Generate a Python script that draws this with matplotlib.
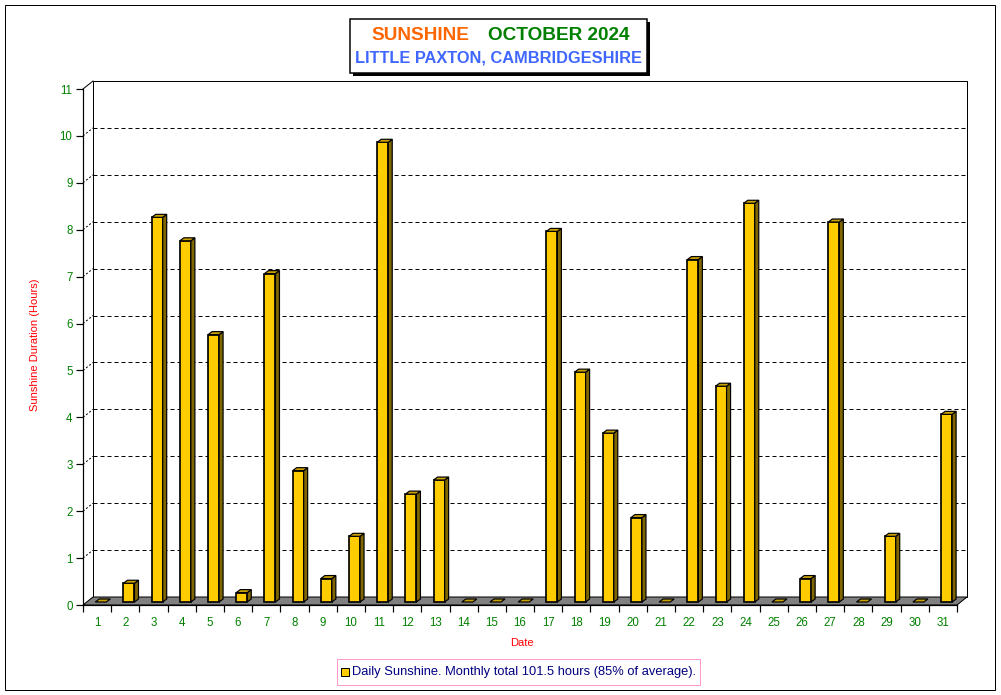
import matplotlib
matplotlib.use('Agg')
import matplotlib.pyplot as plt
from matplotlib.patches import Rectangle, Polygon

# daily sunshine, October 2024 (hours)
days = list(range(1, 32))
sunshine = [0.0, 0.4, 8.2, 7.7, 5.7, 0.2, 7.0, 2.8, 0.5, 1.4, 9.8, 2.3, 2.6, 0.0, 0.0, 0.0,
            7.9, 4.9, 3.6, 1.8, 0.0, 7.3, 4.6, 8.5, 0.0, 0.5, 8.1, 0.0, 1.4, 0.0, 4.0]
y_ticks = list(range(0, 12))
title_left = 'SUNSHINE'
title_right = 'OCTOBER 2024'
subtitle = 'LITTLE PAXTON, CAMBRIDGESHIRE'
legend_text = 'Daily Sunshine. Monthly total 101.5 hours (85% of average).'
x_label = 'Date'
y_label = 'Sunshine Duration (Hours)'

GOLD = '#FFCC00'
GOLD_TOP = '#C9A100'
GOLD_SIDE = '#7F6600'
GREEN = '#008000'
PX = 0.72  # one pixel in points at 100 dpi

W, H = 1001, 695
plt.rcParams['font.family'] = ['Liberation Sans', 'DejaVu Sans']
fig = plt.figure(figsize=(W / 100, H / 100), dpi=100)

def fx(x):
    return x / W

def fy(y):
    return 1 - y / H

# front plane of the 3d box, in pixels
L, R, B, T = 83, 957, 605, 89
ax = fig.add_axes([fx(L), fy(B), (R - L) / W, (B - T) / H])
ax.set_xlim(0.5, 31.5)
ax.set_ylim(0, 11)
ax.patch.set_visible(False)
ux = (R - L) / 31.0   # px per day
uy = (B - T) / 11.0   # px per hour

def dx(p):
    return p / ux

def dy(p):
    return p / uy

# box depth
bdx, bdy = dx(10), dy(8)

# back wall
ax.add_patch(Rectangle((0.5 + bdx, bdy), 31, 11, facecolor='white', edgecolor='black',
                       lw=1 * PX, clip_on=False, zorder=0.5))
for k in y_ticks[1:-1]:
    ax.plot([0.5 + bdx, 31.5 + bdx], [k + bdy, k + bdy], color='black', lw=1 * PX,
            dashes=(4, 3), clip_on=False, zorder=0.6)
    ax.plot([0.5, 0.5 + bdx], [k, k + bdy], color='black', lw=1 * PX,
            dashes=(2, 2), clip_on=False, zorder=0.6)
ax.plot([0.5, 0.5 + bdx], [11, 11 + bdy], color='black', lw=1 * PX, clip_on=False, zorder=0.6)

# floor
ax.add_patch(Polygon([(0.5, 0), (31.5, 0), (31.5 + bdx, bdy), (0.5 + bdx, bdy)],
                     closed=True, facecolor='#808080', edgecolor='black', lw=1 * PX,
                     clip_on=False, zorder=1))

# bars
sx, sy = dx(3.7), dy(3)
fl, fw = dx(-5.5), dx(11)
ddx, ddy = dx(4), dy(3)
for d, v in zip(days, sunshine):
    x0 = d + sx + fl
    x1 = x0 + fw
    y0 = sy
    y1 = sy + v
    top = Polygon([(x0, y1), (x1, y1), (x1 + ddx, y1 + ddy), (x0 + ddx, y1 + ddy)],
                  closed=True, facecolor=GOLD_TOP, edgecolor='black', lw=1.2 * PX,
                  clip_on=False, zorder=3)
    if v > 0:
        ax.add_patch(Rectangle((x0, y0), fw, v, facecolor=GOLD, edgecolor='black',
                               lw=1.7 * PX, clip_on=False, zorder=3))
        ax.add_patch(Polygon([(x1, y0), (x1 + ddx, y0 + ddy), (x1 + ddx, y1 + ddy), (x1, y1)],
                             closed=True, facecolor=GOLD_SIDE, edgecolor='black', lw=1.2 * PX,
                             clip_on=False, zorder=3))
    ax.add_patch(top)

# axes styling
for s in ['top', 'right']:
    ax.spines[s].set_visible(False)
for s in ['left', 'bottom']:
    ax.spines[s].set_linewidth(1.2 * PX)
    ax.spines[s].set_zorder(2)
ax.set_yticks(y_ticks)
ax.set_yticklabels([str(t) for t in y_ticks])
ax.tick_params(axis='y', direction='out', length=7 * PX, width=1.2 * PX, pad=2.5,
               labelcolor=GREEN, labelsize=8.3)
ax.set_xticks(days)
ax.set_xticklabels([str(d) for d in days])
ax.set_xticks([d - 0.5 for d in days] + [31.5], minor=True)
ax.tick_params(axis='x', which='major', length=0, pad=8.5, labelcolor=GREEN, labelsize=8.3)
ax.tick_params(axis='x', which='minor', direction='out', length=7 * PX, width=1.2 * PX)

fig.text(fx(35), fy(345), y_label, color='red', fontsize=8, rotation=90,
         ha='center', va='center')
fig.text(fx(522), fy(643), x_label, color='red', fontsize=8, ha='center', va='center')

# title box with shadow
fig.add_artist(Rectangle((fx(353), fy(76)), (297) / W, (54) / H, transform=fig.transFigure,
                         facecolor='black', edgecolor='none', zorder=5))
fig.add_artist(Rectangle((fx(350), fy(73)), (297) / W, (54) / H, transform=fig.transFigure,
                         facecolor='white', edgecolor='black', lw=1.5 * PX, zorder=6))
fig.text(fx(420), fy(36), title_left, color='#FF6600', fontsize=13.7, fontweight='bold',
         ha='center', va='center', zorder=7)
fig.text(fx(559), fy(36), title_right, color=GREEN, fontsize=13.7, fontweight='bold',
         ha='center', va='center', zorder=7)
fig.text(fx(498.5), fy(58), subtitle, color='#3F66FF', fontsize=11.8, fontweight='bold',
         ha='center', va='center', zorder=7)

# legend box
fig.add_artist(Rectangle((fx(337), fy(685)), 363 / W, 26 / H, transform=fig.transFigure,
                         facecolor='white', edgecolor='#FF99CC', lw=1 * PX, zorder=5))
fig.add_artist(Rectangle((fx(341), fy(676)), 8 / W, 8 / H, transform=fig.transFigure,
                         facecolor=GOLD, edgecolor='black', lw=1 * PX, zorder=6))
fig.text(fx(352), fy(672), legend_text, color='#000080', fontsize=9.3,
         ha='left', va='center', zorder=7)

# outer frame
fig.add_artist(Rectangle((fx(5), fy(690)), 990 / W, 685 / H, transform=fig.transFigure,
                         facecolor='none', edgecolor='black', lw=1 * PX, zorder=8))

fig.savefig('out.png', dpi=100)
